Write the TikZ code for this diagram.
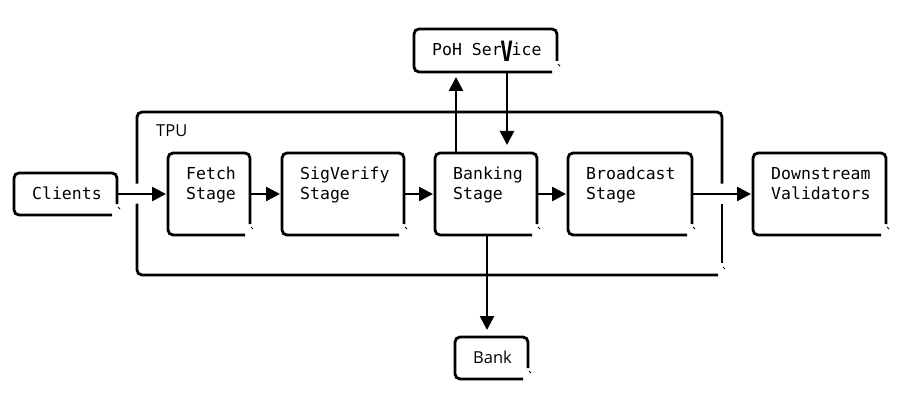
\documentclass[tikz,border=0pt]{standalone}
\usepackage{fontspec}
\usepackage{graphicx}
\setmonofont{DejaVu Sans Mono}
\newfontfamily\labelfont{Open Sans}
\usetikzlibrary{arrows.meta}
% 右下角开口的方框
\def\drawbox#1{
	\draw[line width=2.8pt,rounded corners=5pt]
	([xshift=-5pt]#1.south east) -- (#1.south west) -- (#1.north west)
	-- (#1.north east) -- ([yshift=11pt]#1.south east);
	\draw[line width=.8pt] ([shift={(1pt,8pt)}]#1.south east) -- ++(2pt,-2pt);}

\begin{document}
\begin{tikzpicture}[x=1pt,y=-1pt,font=\ttfamily\fontsize{16.5}{20}\selectfont,
	blk/.style={inner sep=0pt,outer sep=0pt},
	txt/.style={anchor=base west,inner sep=0pt,align=left},
	arr/.style={line width=2.6pt,-{Triangle[length=14pt,width=14pt]},shorten >=2pt}]
	\useasboundingbox (0,0) rectangle (902,409);
	%外框 TPU
	\node[blk,minimum width=585pt,minimum height=163pt] (tpu) at (429.5,193.5) {};
	\draw[line width=2.8pt,rounded corners=5pt] ([yshift=10pt]tpu.west) -- (tpu.north west)
		-- (tpu.north east) -- ([yshift=10pt]tpu.east);
	\draw[line width=2.8pt] ([yshift=-10pt]tpu.east) -- ([yshift=12pt]tpu.south east);
	\draw[line width=2.8pt,rounded corners=5pt] ([xshift=-4pt]tpu.south east) -- (tpu.south west)
		-- ([yshift=-10pt]tpu.west);
	\draw[line width=.8pt] ([shift={(1pt,8pt)}]tpu.south east) -- ++(2pt,-2pt);
	\node[txt,font=\labelfont\fontsize{16.5}{20}\selectfont] (tpu-t)
		at ([shift={(19pt,-25pt)}]tpu.north west) {TPU};
	
	%各个方框
	\node[blk,minimum width=103pt,minimum height=42pt] (clients) at (65.5,194) {};
	\node[blk,minimum width=82pt,minimum height=82pt] (fetch) at (209,194) {};
	\node[blk,minimum width=122pt,minimum height=82pt] (sigverify) at (343,194) {};
	\node[blk,minimum width=102pt,minimum height=82pt] (banking) at (486,194) {};
	\node[blk,minimum width=124pt,minimum height=82pt] (broadcast) at (630,194) {};
	\node[blk,minimum width=133pt,minimum height=82pt] (downstream) at (819.5,194) {};
	\node[blk,minimum width=143pt,minimum height=43pt] (poh) at (485.5,50.5) {};
	\node[blk,minimum width=73pt,minimum height=42pt] (bank) at (491.5,358) {};
	\drawbox{clients} \drawbox{fetch} \drawbox{sigverify} \drawbox{banking}
	\drawbox{broadcast} \drawbox{downstream} \drawbox{poh} \drawbox{bank}
	
	%文字,左对齐;两行时基线在第二行
	\node[txt] (clients-t) at ([shift={(18pt,-26pt)}]clients.north west) {Clients};
	\node[txt] (fetch-t) at ([shift={(18pt,-46pt)}]fetch.north west) {Fetch\\Stage};
	\node[txt] (sigverify-t) at ([shift={(18pt,-46pt)}]sigverify.north west) {SigVerify\\Stage};
	\node[txt] (banking-t) at ([shift={(18pt,-46pt)}]banking.north west) {Banking\\Stage};
	\node[txt] (broadcast-t) at ([shift={(18pt,-46pt)}]broadcast.north west) {Broadcast\\Stage};
	\node[txt] (downstream-t) at ([shift={(18pt,-46pt)}]downstream.north west) {Downstream\\Validators};
	\node[txt] (poh-t) at ([shift={(18pt,-27pt)}]poh.north west)
		{PoH Ser\makebox[0.6em]{\raisebox{-6pt}{\scalebox{.75}[1]{\bfseries\fontsize{28}{28}\selectfont V}}}ice};
	\node[txt,font=\labelfont\fontsize{16.5}{20}\selectfont] (bank-t)
		at ([shift={(18pt,-26pt)}]bank.north west) {Bank};
	
	%箭头
	\draw[arr] (clients) -- (fetch);
	\draw[arr] (fetch) -- (sigverify);
	\draw[arr] (sigverify) -- (banking);
	\draw[arr] (banking) -- (broadcast);
	\draw[arr] (broadcast) -- (downstream);
	\draw[arr,shorten >=5pt] ([xshift=-30pt]banking.north) -- ([xshift=-30pt]banking.north |- poh.south);
	\draw[arr,shorten >=8pt] ([xshift=21pt]banking.north |- poh.south) -- ([xshift=21pt]banking.north);
	\draw[arr,shorten >=7pt] ([xshift=1pt]banking.south) -- ([xshift=1pt]banking.south |- bank.north);
\end{tikzpicture}
\end{document}
